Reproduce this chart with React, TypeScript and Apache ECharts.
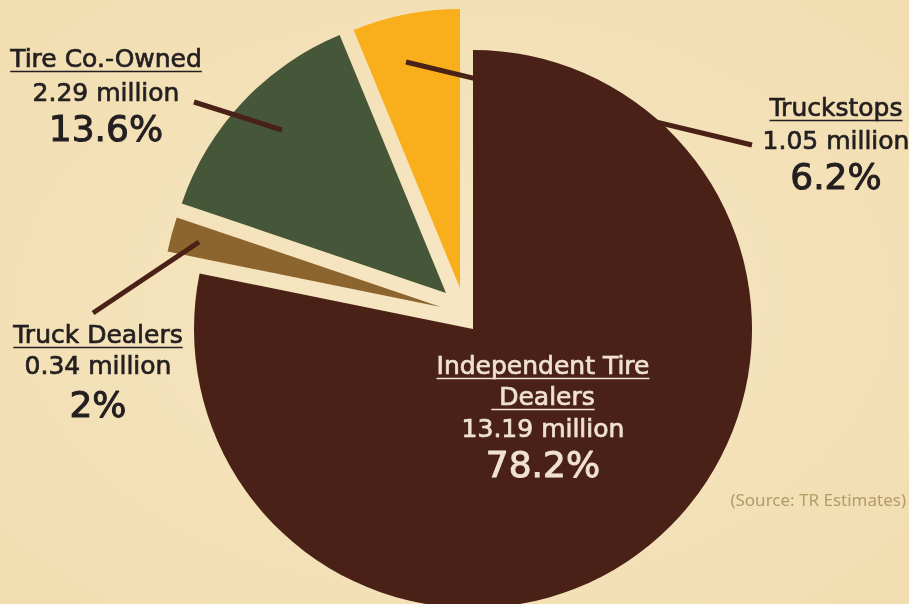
import React, { useEffect, useRef } from "react";
import * as echarts from "echarts";

const names = ["Independent Tire Dealers", "Truck Dealers", "Tire Co.-Owned", "Truckstops"];
const nameLines = [["Independent Tire", " Dealers"], ["Truck Dealers"], ["Tire Co.-Owned"], ["Truckstops"]];
const values = [13.19, 0.34, 2.29, 1.05];
const percentLabels = ["78.2%", "2%", "13.6%", "6.2%"];
const colors = ["#4a2116", "#8c652e", "#465739", "#f9ae1b"];
const sourceText = "(Source: TR Estimates)";

// layout
const CX = 473;
const CY = 329;
const R = 279;
const offsets = [[0, 0], [-32, -22], [-27, -36], [-13, -41]];
// label centers x and baselines [name lines..., value, percent]
const labelLayout = [
  { x: 543, base: [375, 406, 438, 478], color: "#efe2cf", ul: "#efe2cf" },
  { x: 98, base: [344, 375, 418], color: "#231f20", ul: "#231f20" },
  { x: 106, base: [68, 102, 142], color: "#231f20", ul: "#231f20" },
  { x: 836, base: [117, 150, 190], color: "#231f20", ul: "#231f20" },
];
const leaderLines = [
  null,
  [93, 313, 199, 242],
  [194, 102, 282, 130],
  [406, 62, 752, 145],
];

const FONT_NAME = "DejaVu Sans";
const FONT = `'${FONT_NAME}', 'Noto Sans', sans-serif`;
const SMALL = 25;
const BIG = 36;
const WEIGHT = "normal";

function measure(text: string, size: number, weight: string) {
  const c = document.createElement("canvas").getContext("2d");
  if (!c) return text.length * size * 0.6;
  c.font = `${weight} ${size}px '${FONT_NAME}'`;
  return c.measureText(text).width;
}

export default function App() {
  const ref = useRef<HTMLDivElement>(null);
  useEffect(() => {
    if (!ref.current) return;
    const chart = echarts.init(ref.current, null, { renderer: "svg" });

    const series = values.map((_, i) => ({
      type: "pie",
      radius: R,
      center: [CX + offsets[i][0], CY + offsets[i][1]],
      startAngle: 90,
      clockwise: true,
      silent: true,
      avoidLabelOverlap: false,
      label: { show: false },
      labelLine: { show: false },
      emphasis: { disabled: true },
      z: i === 0 ? 1 : 2,
      data: values.map((v, j) => ({
        value: v,
        name: names[j],
        itemStyle: { color: j === i ? colors[i] : "rgba(0,0,0,0)", borderWidth: 0 },
      })),
    }));

    const graphics: any[] = [];
    leaderLines.forEach((l) => {
      if (!l) return;
      graphics.push({
        type: "line",
        z: 50,
        shape: { x1: l[0], y1: l[1], x2: l[2], y2: l[3] },
        style: { stroke: "#4a2116", lineWidth: 5 },
      });
    });
    labelLayout.forEach((lay, i) => {
      const lines = nameLines[i];
      const texts = [
        ...lines.map((t) => ({ t, size: SMALL, ul: true })),
        { t: `${values[i]} million`, size: SMALL, ul: false },
        { t: percentLabels[i], size: BIG, ul: false },
      ];
      texts.forEach((tx, k) => {
        const base = lay.base[k];
        graphics.push({
          type: "text",
          z: 60,
          x: lay.x,
          y: base - 0.37 * tx.size,
          style: {
            text: tx.t,
            fill: lay.color,
            stroke: lay.color,
            lineWidth: tx.size > 30 ? 1 : 0.7,
            font: `${WEIGHT} ${tx.size}px ${FONT}`,
            align: "center",
            verticalAlign: "middle",
          },
        });
        if (tx.ul) {
          const w = measure(tx.t, tx.size, WEIGHT);
          graphics.push({
            type: "line",
            z: 60,
            shape: { x1: lay.x - w / 2, y1: base + 3.5, x2: lay.x + w / 2, y2: base + 3.5 },
            style: { stroke: lay.ul, lineWidth: 1.6 },
          });
        }
      });
    });
    graphics.push({
      type: "text",
      z: 60,
      x: 906,
      y: 499,
      style: {
        text: sourceText,
        fill: "#b39b68",
        font: `normal 17px 'Noto Sans', sans-serif`,
        align: "right",
        verticalAlign: "middle",
      },
    });

    chart.setOption({
      animation: false,
      backgroundColor: {
        type: "radial",
        x: 0.5,
        y: 0.5,
        r: 0.8,
        colorStops: [
          { offset: 0, color: "#f6e6c3" },
          { offset: 1, color: "#f1dcad" },
        ],
      },
      series,
      graphic: graphics,
    });
    return () => chart.dispose();
  }, []);
  return (
    <div
      ref={ref}
      style={{ position: "fixed", left: 0, top: 0, width: 909, height: 604 }}
    />
  );
}
